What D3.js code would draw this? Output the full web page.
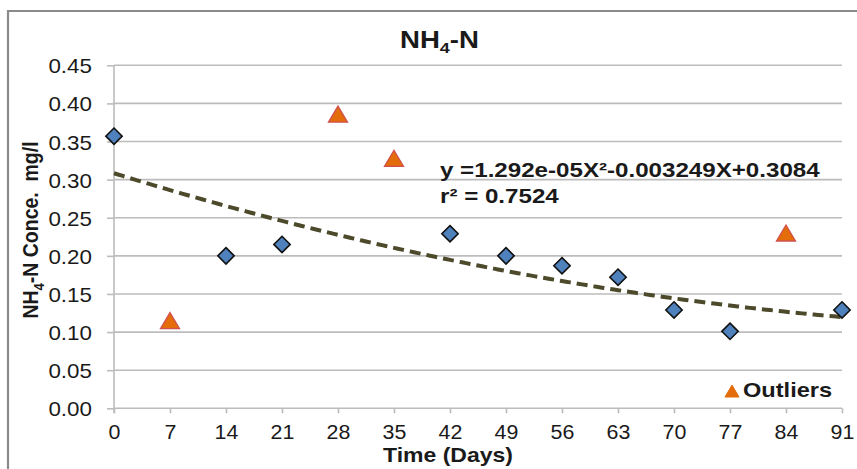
<!DOCTYPE html>
<html>
<head>
<meta charset="utf-8">
<script src="https://cdn.jsdelivr.net/npm/d3@7"></script>
<style>
  html, body { margin: 0; padding: 0; background: #fff; }
  svg { display: block; }
  text { font-family: "Liberation Sans", Arial, sans-serif; fill: #1a1a1a; }
</style>
</head>
<body>
<svg id="chart" width="857" height="469"></svg>
<script>
// Sampling days and NH4-N concentrations (mg/l)
const days = [0, 14, 21, 42, 49, 56, 63, 70, 77, 91];
const conc = [0.357, 0.200, 0.215, 0.229, 0.200, 0.187, 0.172, 0.129, 0.101, 0.129];

// Points flagged as outliers
const outlierDays = [7, 28, 35, 84];
const outlierConc = [0.115, 0.386, 0.328, 0.230];

// Quadratic trend coefficients: c0 + c1*X + c2*X^2
const trendCoef = [0.3084, -0.003249, 1.292e-05];

// Axis ticks
const xTicks = [0, 7, 14, 21, 28, 35, 42, 49, 56, 63, 70, 77, 84, 91];
const yTicks = [0, 0.05, 0.10, 0.15, 0.20, 0.25, 0.30, 0.35, 0.40, 0.45];

const svg = d3.select("#chart");

const plot = { left: 114, right: 842, top: 65.3, bottom: 408.3 };
const x = d3.scaleLinear().domain([0, 91]).range([plot.left, plot.right]);
const y = d3.scaleLinear().domain([0, 0.45]).range([plot.bottom, plot.top]);

const gridColor = "#bcbcbc";
const stretch = 1.12;

// Outer frame (top and left edges)
svg.append("path")
  .attr("d", "M8,469 L8,11 L857,11")
  .attr("fill", "none")
  .attr("stroke", "#8a8a8a")
  .attr("stroke-width", 2.2);

// Horizontal gridlines
svg.append("g")
  .selectAll("line")
  .data(yTicks.slice(1))
  .join("line")
  .attr("x1", plot.left).attr("x2", plot.right)
  .attr("y1", d => y(d)).attr("y2", d => y(d))
  .attr("stroke", gridColor)
  .attr("stroke-width", 1.6);

// Y axis
const yAxis = svg.append("g")
  .attr("transform", `translate(${plot.left},0)`)
  .call(d3.axisLeft(y).tickValues(yTicks).tickFormat(d3.format(".2f")).tickSize(7).tickPadding(0));
yAxis.select(".domain").attr("stroke", gridColor).attr("stroke-width", 1.6)
  .attr("d", `M0,${plot.top}V${plot.bottom + 5}`);
yAxis.selectAll(".tick line").attr("stroke", gridColor).attr("stroke-width", 1.6);
yAxis.selectAll(".tick text")
  .attr("x", null).attr("dy", null)
  .attr("transform", `translate(-22,7.5) scale(${stretch},1)`)
  .style("font-size", "20px")
  .attr("fill", "#1a1a1a");

// X axis
const xAxis = svg.append("g")
  .attr("transform", `translate(0,${plot.bottom})`)
  .call(d3.axisBottom(x).tickValues(xTicks).tickSize(5).tickPadding(13));
xAxis.select(".domain").attr("stroke", gridColor).attr("stroke-width", 1.6)
  .attr("d", `M${plot.left},0H${plot.right}`);
xAxis.selectAll(".tick line").attr("stroke", gridColor).attr("stroke-width", 1.6);
xAxis.selectAll(".tick text")
  .attr("y", null).attr("dy", null)
  .attr("transform", `translate(0,31) scale(1.07,1)`)
  .style("font-size", "20px")
  .attr("fill", "#1a1a1a");
yAxis.attr("font-family", null).attr("font-size", null);
xAxis.attr("font-family", null).attr("font-size", null);

// Trend curve from the fitted coefficients
const trendFn = t => trendCoef[0] + trendCoef[1] * t + trendCoef[2] * t * t;
const trendData = d3.range(0, 91.01, 0.5).map(t => [t, trendFn(t)]);
svg.append("path")
  .datum(trendData)
  .attr("d", d3.line().x(d => x(d[0])).y(d => y(d[1])))
  .attr("fill", "none")
  .attr("stroke", "#4d4a2c")
  .attr("stroke-width", 4)
  .attr("stroke-dasharray", "11,6");

// Measured values as diamonds
const diamond = d3.symbol().type(d3.symbolDiamond2).size(170);
svg.append("g")
  .selectAll("path")
  .data(days.map((d, i) => [d, conc[i]]))
  .join("path")
  .attr("d", diamond)
  .attr("transform", d => `translate(${x(d[0])},${y(d[1])})`)
  .attr("fill", "#4f81bd")
  .attr("stroke", "#111")
  .attr("stroke-width", 1.6);

// Outliers as triangles
const tri = (w, h) => `M0,${-h / 2}L${w / 2},${h / 2}L${-w / 2},${h / 2}Z`;
svg.append("g")
  .selectAll("path")
  .data(outlierDays.map((d, i) => [d, outlierConc[i]]))
  .join("path")
  .attr("d", tri(19, 16))
  .attr("transform", d => `translate(${x(d[0])},${y(d[1])})`)
  .attr("fill", "#e46c0a")
  .attr("stroke", "#d0504d")
  .attr("stroke-width", 1.3);

// Title
const title = svg.append("text")
  .attr("transform", `translate(400,48) scale(1.2,1)`)
  .style("font-size", "23px")
  .style("font-weight", "bold");
title.append("tspan").text("NH");
title.append("tspan").attr("dy", 5).style("font-size", "15px").text("4");
title.append("tspan").attr("dy", -5).text("-N");

// Y axis title
const yTitle = svg.append("text")
  .attr("transform", `translate(38,230) rotate(-90) scale(1,1.12)`)
  .attr("text-anchor", "middle")
  .style("font-size", "19.5px")
  .style("font-weight", "bold")
  .style("white-space", "pre");
yTitle.append("tspan").text("NH");
yTitle.append("tspan").attr("dy", 5).style("font-size", "13px").text("4");
yTitle.append("tspan").attr("dy", -5).text("-N Conce.  mg/l");

// X axis title
svg.append("text")
  .attr("transform", `translate(383,462) scale(1.15,1)`)
  .style("font-size", "20px")
  .style("font-weight", "bold")
  .text("Time (Days)");

// Trend equation
svg.append("text")
  .attr("transform", `translate(440,177) scale(1.15,1)`)
  .style("font-size", "21px")
  .style("font-weight", "bold")
  .text("y =1.292e-05X²-0.003249X+0.3084");
svg.append("text")
  .attr("transform", `translate(440,203) scale(1.15,1)`)
  .style("font-size", "21px")
  .style("font-weight", "bold")
  .text("r² = 0.7524");

// Legend
svg.append("path")
  .attr("d", tri(14, 12))
  .attr("transform", "translate(732,391)")
  .attr("fill", "#e46c0a")
  .attr("stroke", "#e46c0a")
  .attr("stroke-width", 1);
svg.append("text")
  .attr("transform", `translate(743,397) scale(1.18,1)`)
  .style("font-size", "20px")
  .style("font-weight", "bold")
  .text("Outliers");
</script>
</body>
</html>
